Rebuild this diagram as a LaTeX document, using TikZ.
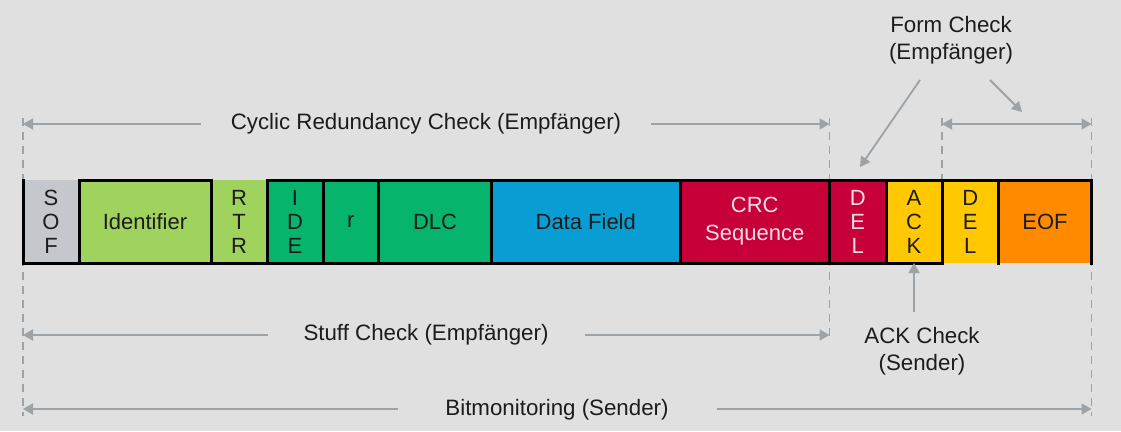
\documentclass[tikz,border=0pt]{standalone}
\usepackage{fontspec}
\setmainfont{Liberation Sans}
\usetikzlibrary{arrows.meta}
\definecolor{bg}{HTML}{E0E0E0}
\definecolor{ink}{HTML}{1C1C1C}
\definecolor{guide}{HTML}{9CA2A6}
\definecolor{sofgray}{HTML}{C4C8CC}
\definecolor{lightgreen}{HTML}{A0D25E}
\definecolor{green}{HTML}{07B46C}
\definecolor{blue}{HTML}{089DD3}
\definecolor{crimson}{HTML}{C8003A}
\definecolor{palepink}{HTML}{F3DDE6}
\definecolor{yellow}{HTML}{FFC800}
\definecolor{orange}{HTML}{FF8A00}
\begin{document}
\begin{tikzpicture}[x=1pt,y=-1pt,
  field/.style={minimum height=83pt, inner sep=0pt, outer sep=0pt, draw=none,
    text=ink, align=center, font=\fontsize{22}{28}\selectfont},
  stacked/.style={field, font=\fontsize{22}{24}\selectfont},
  border/.style={line width=3pt, draw=black, line cap=rect},
  label/.style={text=ink, align=center, inner sep=0pt, font=\fontsize{22.3}{27}\selectfont},
  guideline/.style={draw=guide, line width=1.6pt, dash pattern=on 8pt off 6pt},
  span/.style={draw=guide, line width=1.8pt, -{Triangle[length=10pt,width=11pt]}},
  twospan/.style={draw=guide, line width=1.8pt, {Triangle[length=10pt,width=11pt]}-{Triangle[length=10pt,width=11pt]}}
]
% canvas
\fill[bg] (0,0) rectangle (1121,431);
\useasboundingbox (0,0) rectangle (1121,431);

% dashed boundary guides
\coordinate (g1t) at (23,118);    \coordinate (g1b) at (23,416);
\coordinate (g2t) at (829.5,118); \coordinate (g2b) at (829.5,342);
\coordinate (g3t) at (942,118);   \coordinate (g3b) at (942,180);
\coordinate (g4t) at (1091.5,118);\coordinate (g4b) at (1091.5,416);
\draw[guideline] (g1t) -- (g1b);
\draw[guideline] (g2t) -- (g2b);
\draw[guideline] (g3t) -- (g3b);
\draw[guideline] (g4t) -- (g4b);

% frame fields
\node[stacked, fill=sofgray,    minimum width=56pt]    (sof)   at (51,221.5)     {S\\O\\F};
\node[field,   fill=lightgreen, minimum width=132pt]   (ident) at (145,221.5)    {Identifier};
\node[stacked, fill=lightgreen, minimum width=56pt]    (rtr)   at (239,221.5)    {R\\T\\R};
\node[stacked, fill=green,      minimum width=56pt]    (ide)   at (295,221.5)    {I\\D\\E};
\node[field,   fill=green,      minimum width=55.5pt]  (r)     at (350.75,221.5) {r};
\node[field,   fill=green,      minimum width=113pt]   (dlc)   at (435,221.5)    {DLC};
\node[field,   fill=blue,       minimum width=188.5pt] (data)  at (585.75,221.5) {Data Field};
\node[field,   fill=crimson,    minimum width=149.5pt, text=palepink] (crc) at (754.75,221.5) {CRC\\Sequence};
\node[stacked, fill=crimson,    minimum width=56.5pt,  text=palepink] (dela) at (857.75,221.5) {D\\E\\L};
\node[stacked, fill=yellow,     minimum width=56pt]    (ack)   at (914,221.5)    {A\\C\\K};
\node[stacked, fill=yellow,     minimum width=56.5pt]  (delb)  at (970.25,221.5) {D\\E\\L};
\node[field,   fill=orange,     minimum width=93pt]    (eof)   at (1045,221.5)   {EOF};

% black field borders
\draw[border] (ident.north west) -- (ident.north east);
\draw[border] (ide.north west) -- (eof.north east);
\draw[border] (sof.south west) -- (ack.south east);
\draw[border] (sof.north west) -- (sof.south west);
\foreach \f in {sof,ident,rtr,ide,r,dlc,data,crc,dela,ack,delb,eof}
  \draw[border] (\f.north east) -- (\f.south east);

% check labels
\node[label] (crctxt)  at (426,124)  {Cyclic Redundancy Check (Empfänger)};
\node[label] (stufftxt) at (426,335) {Stuff Check (Empfänger)};
\node[label] (bittxt)  at (557,410)  {Bitmonitoring (Sender)};
\node[label] (formtxt) at (951,40)   {Form Check\\(Empfänger)};
\node[label] (acktxt)  at (922,351)  {ACK Check\\(Sender)};

% span arrows
\coordinate (crcl) at (201,124);  \coordinate (crcle) at (23,124);
\coordinate (crcr) at (651,124);  \coordinate (crcre) at (829.5,124);
\draw[span] (crcl) -- (crcle);
\draw[span] (crcr) -- (crcre);

\coordinate (stl) at (268,335);   \coordinate (stle) at (23,335);
\coordinate (str) at (585,335);   \coordinate (stre) at (829.5,335);
\draw[span] (stl) -- (stle);
\draw[span] (str) -- (stre);

\coordinate (bml) at (398,409);   \coordinate (bmle) at (23,409);
\coordinate (bmr) at (717,409);   \coordinate (bmre) at (1091.5,409);
\draw[span] (bml) -- (bmle);
\draw[span] (bmr) -- (bmre);

\coordinate (fa) at (920,80);  \coordinate (fae) at (860,167);
\coordinate (fb) at (990,80);  \coordinate (fbe) at (1022,112);
\draw[span] (fa) -- (fae);
\draw[span] (fb) -- (fbe);
\coordinate (efl) at (942,124); \coordinate (efr) at (1091.5,124);
\draw[twospan] (efl) -- (efr);

\coordinate (acka) at (914,312);
\draw[span] (acka) -- (ack.south);
\end{tikzpicture}
\end{document}
